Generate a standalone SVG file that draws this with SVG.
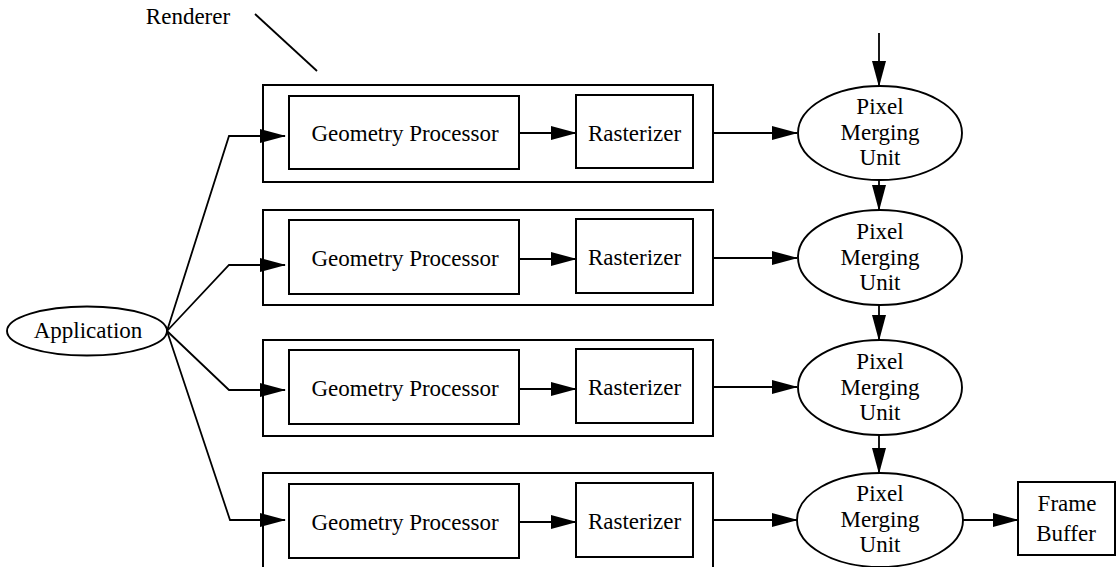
<svg xmlns="http://www.w3.org/2000/svg" width="1118" height="567" viewBox="0 0 1118 567">
  <style>
    .box { fill: #fff; stroke: #000; stroke-width: 2; }
    .node { fill: #fff; stroke: #000; stroke-width: 1.9; }
    .wire { fill: none; stroke: #000; stroke-width: 1.8; }
    .lbl { font-family: "Liberation Serif", "DejaVu Serif", serif; font-size: 23px; fill: #000; text-anchor: middle; }
  </style>
  <defs>
    <marker id="head" markerUnits="userSpaceOnUse" markerWidth="27" markerHeight="15" refX="25" refY="7" orient="auto">
      <path d="M0,0 L26,7 L0,14 Z" fill="#000"/>
    </marker>
  </defs>
  <rect width="1118" height="567" fill="#fff"/>

  <!-- caption pointing at a renderer -->
  <g id="renderer-label">
    <text class="lbl" x="188" y="24" font-size="22.5">Renderer</text>
    <line class="wire" x1="255" y1="14" x2="317" y2="71"/>
  </g>

  <!-- application -->
  <g id="application">
    <ellipse class="node" cx="87" cy="331" rx="80" ry="24.5"/>
    <text class="lbl" x="88" y="338" font-size="22">Application</text>
  </g>

  <!-- renderer 1 -->
  <g id="renderer1">
    <rect class="box" x="263" y="85" width="450" height="97"/>
    <g id="geometry1">
      <rect class="box" x="289" y="96" width="230" height="73"/>
      <text class="lbl" x="405" y="141">Geometry Processor</text>
    </g>
    <g id="rasterizer1">
      <rect class="box" x="576" y="95" width="117" height="73"/>
      <text class="lbl" x="634.5" y="140.5">Rasterizer</text>
    </g>
  </g>

  <!-- renderer 2 -->
  <g id="renderer2">
    <rect class="box" x="263" y="210" width="450" height="95"/>
    <g id="geometry2">
      <rect class="box" x="289" y="220" width="230" height="74"/>
      <text class="lbl" x="405" y="266">Geometry Processor</text>
    </g>
    <g id="rasterizer2">
      <rect class="box" x="576" y="219" width="117" height="74"/>
      <text class="lbl" x="634.5" y="265">Rasterizer</text>
    </g>
  </g>

  <!-- renderer 3 -->
  <g id="renderer3">
    <rect class="box" x="263" y="340" width="450" height="96"/>
    <g id="geometry3">
      <rect class="box" x="289" y="350" width="230" height="74"/>
      <text class="lbl" x="405" y="396">Geometry Processor</text>
    </g>
    <g id="rasterizer3">
      <rect class="box" x="576" y="349" width="117" height="74"/>
      <text class="lbl" x="634.5" y="395">Rasterizer</text>
    </g>
  </g>

  <!-- renderer 4 -->
  <g id="renderer4">
    <rect class="box" x="263" y="473" width="450" height="100"/>
    <g id="geometry4">
      <rect class="box" x="289" y="484" width="230" height="74"/>
      <text class="lbl" x="405" y="530">Geometry Processor</text>
    </g>
    <g id="rasterizer4">
      <rect class="box" x="576" y="483" width="117" height="74"/>
      <text class="lbl" x="634.5" y="529">Rasterizer</text>
    </g>
  </g>

  <!-- pixel merging units -->
  <g id="pmu1">
    <ellipse class="node" cx="880" cy="133" rx="82" ry="47"/>
    <text class="lbl" x="880" y="114">Pixel</text>
    <text class="lbl" x="880" y="140">Merging</text>
    <text class="lbl" x="880" y="165">Unit</text>
  </g>
  <g id="pmu2">
    <ellipse class="node" cx="880" cy="257.5" rx="82" ry="47.5"/>
    <text class="lbl" x="880" y="238.5">Pixel</text>
    <text class="lbl" x="880" y="264.5">Merging</text>
    <text class="lbl" x="880" y="289.5">Unit</text>
  </g>
  <g id="pmu3">
    <ellipse class="node" cx="880" cy="387.5" rx="82" ry="47.5"/>
    <text class="lbl" x="880" y="368.5">Pixel</text>
    <text class="lbl" x="880" y="394.5">Merging</text>
    <text class="lbl" x="880" y="419.5">Unit</text>
  </g>
  <g id="pmu4">
    <ellipse class="node" cx="880" cy="520" rx="83" ry="47"/>
    <text class="lbl" x="880" y="501">Pixel</text>
    <text class="lbl" x="880" y="527">Merging</text>
    <text class="lbl" x="880" y="552">Unit</text>
  </g>

  <!-- frame buffer -->
  <g id="frame-buffer">
    <rect class="box" x="1018" y="482" width="97" height="73"/>
    <text class="lbl" x="1067" y="511">Frame</text>
    <text class="lbl" x="1066" y="541">Buffer</text>
  </g>

  <!-- connectors -->
  <g id="connectors">
    <!-- application fan-out -->
    <polyline class="wire" points="167,331 229,136 285,136" marker-end="url(#head)"/>
    <polyline class="wire" points="167,331 229,265 285,265" marker-end="url(#head)"/>
    <polyline class="wire" points="167,331 229,390 285,390" marker-end="url(#head)"/>
    <polyline class="wire" points="167,331 230,520 285,520" marker-end="url(#head)"/>

    <!-- geometry to rasterizer -->
    <line class="wire" x1="519" y1="133" x2="576" y2="133" marker-end="url(#head)"/>
    <line class="wire" x1="519" y1="259" x2="576" y2="259" marker-end="url(#head)"/>
    <line class="wire" x1="519" y1="389" x2="576" y2="389" marker-end="url(#head)"/>
    <line class="wire" x1="519" y1="522" x2="576" y2="522" marker-end="url(#head)"/>

    <!-- renderer to merging unit -->
    <line class="wire" x1="713" y1="133" x2="797" y2="133" marker-end="url(#head)"/>
    <line class="wire" x1="713" y1="258" x2="797" y2="258" marker-end="url(#head)"/>
    <line class="wire" x1="713" y1="387" x2="797" y2="387" marker-end="url(#head)"/>
    <line class="wire" x1="713" y1="520" x2="797" y2="520" marker-end="url(#head)"/>

    <!-- merging chain -->
    <line class="wire" x1="879" y1="33" x2="879" y2="86" marker-end="url(#head)"/>
    <line class="wire" x1="879" y1="180" x2="879" y2="210" marker-end="url(#head)"/>
    <line class="wire" x1="879" y1="305" x2="879" y2="340" marker-end="url(#head)"/>
    <line class="wire" x1="879" y1="435" x2="879" y2="473" marker-end="url(#head)"/>

    <!-- out to frame buffer -->
    <line class="wire" x1="963" y1="520" x2="1018" y2="520" marker-end="url(#head)"/>
  </g>
</svg>
